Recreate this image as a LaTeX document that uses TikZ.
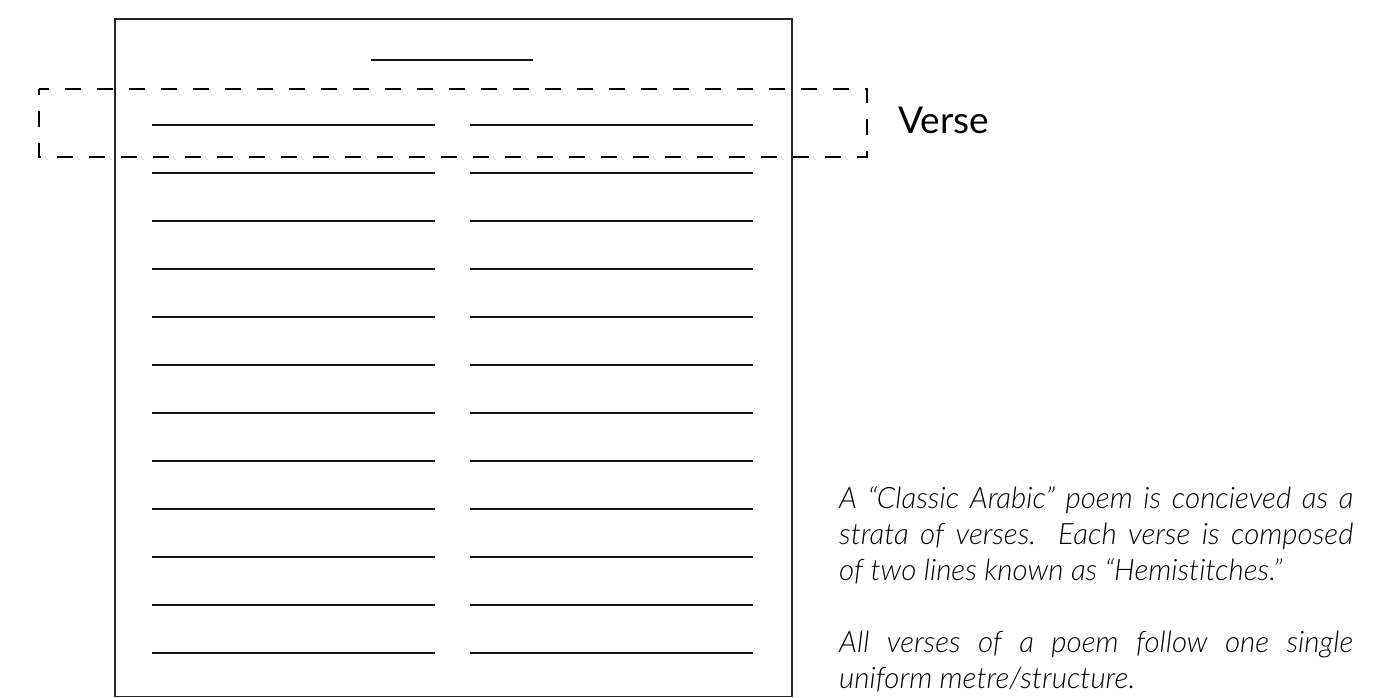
\documentclass[tikz,border=0pt]{standalone}
\usepackage{fontspec}
\setmainfont{Lato}
\newfontfamily\notefont{Lato Light Italic}[Ligatures=NoCommon]
\usetikzlibrary{positioning}

\begin{document}
\begin{tikzpicture}[x=1pt,y=-1pt,
  pageframe/.style={draw=black!85,line width=1.4pt},
  hemline/.style={draw=black!90,line width=1.4pt},
  versebox/.style={draw=black,line width=1.3pt,dash pattern=on 16pt off 16pt,dash phase=10pt}]
\useasboundingbox (0,0) rectangle (1389,697);
\draw[pageframe] (115,19) rectangle (792,696.3);
\draw[hemline,line width=1.2pt] (371,60) -- (533,60);
\foreach \y in {125,173,...,653} {
  \draw[hemline] (152,\y) -- (435,\y);
  \draw[hemline] (470,\y) -- (753,\y);
}
\draw[versebox] (39,89) rectangle (867,157);
\node[anchor=base west,inner sep=0pt,font=\fontsize{37}{44}\selectfont] (verselabel) at (898,133) {Verse};
\node[anchor=north west,inner sep=0pt,text width=514pt,align=justify,
  font=\notefont\fontsize{29.5}{36}\selectfont] (note) at (839,486) {%
A “Classic Arabic” poem is concieved as a\linebreak strata of verses. Each verse is composed\linebreak of two lines known as “Hemistitches.”\par\vspace{36pt}%
All verses of a poem follow one single\linebreak uniform metre/structure.};
\end{tikzpicture}
\end{document}
